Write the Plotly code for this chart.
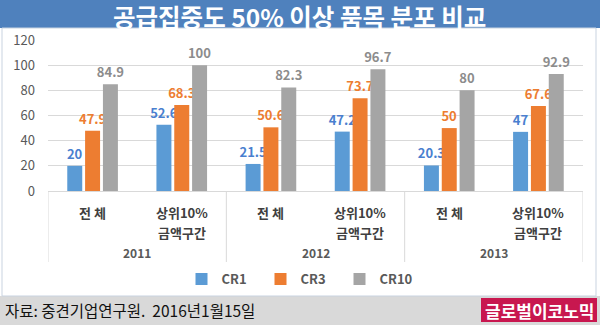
import plotly.graph_objects as go

years = ["2011", "2012", "2013"]
groups = ["전 체", "상위10%<br>금액구간", "전 체", "상위10%<br>금액구간", "전 체", "상위10%<br>금액구간"]
series_names = ["CR1", "CR3", "CR10"]
cr1 = [20, 52.6, 21.5, 47.2, 20.3, 47]
cr3 = [47.9, 68.3, 50.6, 73.7, 50, 67.6]
cr10 = [84.9, 100, 82.3, 96.7, 80, 92.9]
y_ticks = [0, 20, 40, 60, 80, 100, 120]

bar_colors = ["#5b9bd5", "#ed7d31", "#a5a5a5"]
label_colors = ["#4a7fcf", "#ed7d31", "#8c8c8c"]

W, H = 600, 325
ML, MR, MT, MB = 48, 17, 40, 134
pw, ph = W - ML - MR, H - MT - MB

def px(x):
    return (x - ML) / pw

def py(y):
    return (H - MB - y) / ph

FONT = "Noto Sans CJK KR"
xpos = list(range(len(groups)))

fig = go.Figure()
for name, vals, c, lc in zip(series_names, [cr1, cr3, cr10], bar_colors, label_colors):
    fig.add_trace(go.Bar(
        x=xpos, y=vals, name=name,
        marker=dict(color=c, line=dict(width=0)),
        text=[f"{v:g}" for v in vals], textposition="outside", constraintext="none",
        textfont=dict(color=lc, size=13, family=FONT, weight="bold"),
        cliponaxis=False,
    ))

shapes = [
    dict(type="rect", xref="paper", yref="paper", x0=px(0), x1=px(600), y0=py(28), y1=py(0),
         fillcolor="#4f81bd", line=dict(width=0), layer="below"),
    dict(type="rect", xref="paper", yref="paper", x0=px(0), x1=px(600), y0=py(325), y1=py(296),
         fillcolor="#d9d9d9", line=dict(width=0), layer="below"),
    dict(type="rect", xref="paper", yref="paper", x0=px(2), x1=px(596), y0=py(296), y1=py(28),
         fillcolor="rgba(0,0,0,0)", line=dict(width=1, color="#c9d3e0"), layer="below"),
    dict(type="rect", xref="paper", yref="paper", x0=px(481), x1=px(597), y0=py(322), y1=py(298),
         fillcolor="#c8174f", line=dict(width=0), layer="above"),
]
n_years = len(years)
per = len(groups) // n_years
for k in range(n_years + 1):
    xv = k * per - 0.5
    shapes.append(dict(type="line", xref="x", yref="paper", x0=xv, x1=xv, y0=py(191), y1=py(262),
                       line=dict(width=1, color="#d9d9d9")))

annotations = [
    dict(text="<b>공급집중도 50% 이상 품목 분포 비교</b>", xref="paper", yref="paper",
         x=px(299), y=py(16), showarrow=False, font=dict(color="white", size=24.5, family=FONT),
         xanchor="center", yanchor="middle"),
    dict(text="자료: 중견기업연구원.  2016년1월15일", xref="paper", yref="paper",
         x=px(3), y=py(310), showarrow=False, font=dict(color="#111111", size=15.5, family=FONT),
         xanchor="left", yanchor="middle"),
    dict(text="<b>글로벌이코노믹</b>", xref="paper", yref="paper",
         x=px(539), y=py(310), showarrow=False, font=dict(color="white", size=17, family=FONT),
         xanchor="center", yanchor="middle"),
]
for i, g in enumerate(groups):
    for j, line in enumerate(g.split("<br>")):
        annotations.append(dict(text=f"<b>{line}</b>", xref="x", yref="paper", x=xpos[i],
                                y=py(212 + 20 * j), showarrow=False, xanchor="center", yanchor="middle",
                                font=dict(size=13, color="#404040", family=FONT)))
for k, yr in enumerate(years):
    annotations.append(dict(text=f"<b>{yr}</b>", xref="x", yref="paper", x=k * per + (per - 1) / 2,
                            y=py(252), showarrow=False, xanchor="center", yanchor="middle",
                            font=dict(size=12, color="#595959", family=FONT)))

fig.update_layout(
    width=W, height=H,
    margin=dict(l=ML, r=MR, t=MT, b=MB, pad=0),
    paper_bgcolor="white", plot_bgcolor="white",
    barmode="group", bargap=0.4, bargroupgap=0.16,
    font=dict(family=FONT, color="#595959"),
    showlegend=True,
    legend=dict(orientation="h", x=px(300), xanchor="center", y=py(279), yanchor="middle",
                font=dict(size=13, color="#595959", family=FONT, weight="bold"),
                itemwidth=30, entrywidth=34, tracegroupgap=0, bgcolor="rgba(0,0,0,0)"),
    shapes=shapes, annotations=annotations,
    yaxis=dict(range=[0, 120], tickvals=y_ticks, showgrid=True, gridcolor="#d9d9d9",
               gridwidth=1, zeroline=False, showline=False, ticks="",
               tickfont=dict(size=13, color="#595959", family=FONT), ticklabelstandoff=12),
    xaxis=dict(range=[-0.5, len(groups) - 0.5], tickvals=xpos, showticklabels=False,
               showline=True, linecolor="#d9d9d9", linewidth=1,
               ticks="", showgrid=False, zeroline=False),
)

fig.write_html("out.html")
